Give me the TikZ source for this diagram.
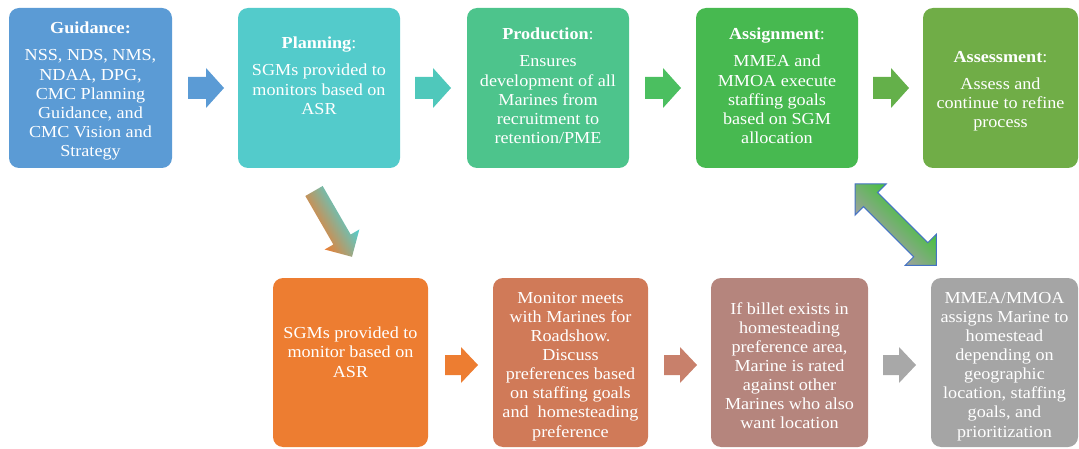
\documentclass[tikz,border=0pt]{standalone}
\usepackage{fontspec}
\setmainfont{Liberation Serif}[FakeStretch=1.08]
\usetikzlibrary{calc}
\definecolor{cGuid}{HTML}{5B9BD5}
\definecolor{cPlan}{HTML}{53CBCB}
\definecolor{cProd}{HTML}{4DC48C}
\definecolor{cAssg}{HTML}{47B950}
\definecolor{cAsse}{HTML}{70AD47}
\definecolor{cOrng}{HTML}{ED7D31}
\definecolor{cMoni}{HTML}{D07A58}
\definecolor{cBill}{HTML}{B5857D}
\definecolor{cMmea}{HTML}{A5A5A5}
\definecolor{aOne}{HTML}{5B9BD5}
\definecolor{aTwo}{HTML}{4FC8BB}
\definecolor{aThree}{HTML}{4BBF60}
\definecolor{aFour}{HTML}{64B04A}
\definecolor{aFive}{HTML}{ED7D31}
\definecolor{aSix}{HTML}{C8806B}
\definecolor{aSeven}{HTML}{A8A8A8}
\definecolor{dTeal}{HTML}{4FD0D2}
\definecolor{dGreen}{HTML}{45C23C}
\definecolor{dGrey}{HTML}{A0A0A0}
\definecolor{dBlue}{HTML}{4472C4}
\tikzset{
  box/.style={rectangle, rounded corners=10pt, draw=none, inner sep=0pt},
  txt/.style={anchor=north, align=center, inner sep=0pt, text=white,
    font=\fontsize{16.8}{19.1}\selectfont},
  pics/toparrow/.style={code={
    \path[pic actions] (0,-11) -- (18,-11) -- (18,-20) -- (36,0) -- (18,20) -- (18,11) -- (0,11) -- cycle;}},
  pics/botarrow/.style={code={
    \path[pic actions] (0,-10) -- (16,-10) -- (16,-18) -- (33,0) -- (16,18) -- (16,10) -- (0,10) -- cycle;}}
}
\begin{document}
\begin{tikzpicture}[x=1pt,y=-1pt]
\useasboundingbox (0,0) rectangle (1079,449);
% top row boxes
\node[box, fill=cGuid, minimum width=163pt, minimum height=160pt] (guid) at (90.5,88) {};
\node[box, fill=cPlan, minimum width=162pt, minimum height=160pt] (plan) at (319,88) {};
\node[box, fill=cProd, minimum width=162pt, minimum height=160pt] (prod) at (548,88) {};
\node[box, fill=cAssg, minimum width=162pt, minimum height=160pt] (assg) at (777,88) {};
\node[box, fill=cAsse, minimum width=155pt, minimum height=160pt] (asse) at (1000.5,88) {};
% bottom row boxes
\node[box, fill=cOrng, minimum width=155pt, minimum height=169pt] (orng) at (350.5,362.5) {};
\node[box, fill=cMoni, minimum width=155pt, minimum height=169pt] (moni) at (570.5,362.5) {};
\node[box, fill=cBill, minimum width=157pt, minimum height=169pt] (bill) at (789.5,362.5) {};
\node[box, fill=cMmea, minimum width=147pt, minimum height=169pt] (mmea) at (1004.5,362.5) {};
% texts
\node[txt] (guidT) at (90.5,22) {\textbf{Guidance:}\\[8pt]NSS, NDS, NMS,\\NDAA, DPG,\\CMC Planning\\Guidance, and\\CMC Vision and\\Strategy};
\node[txt] (planT) at (319,37) {\textbf{Planning}:\\[8pt]SGMs provided to\\monitors based on\\ASR};
\node[txt] (prodT) at (548,28) {\textbf{Production}:\\[8pt]Ensures\\development of all\\Marines from\\recruitment to\\retention/PME};
\node[txt] (assgT) at (777,28) {\textbf{Assignment}:\\[8pt]MMEA and\\MMOA execute\\staffing goals\\based on SGM\\allocation};
\node[txt] (asseT) at (1000.5,51) {\textbf{Assessment}:\\[8pt]Assess and\\continue to refine\\process};
\node[txt] (orngT) at (350.5,327) {SGMs provided to\\monitor based on\\ASR};
\node[txt] (moniT) at (570.5,292) {Monitor meets\\with Marines for\\Roadshow.\\Discuss\\preferences based\\on staffing goals\\and~ homesteading\\preference};
\node[txt] (billT) at (789.5,302) {If billet exists in\\homesteading\\preference area,\\Marine is rated\\against other\\Marines who also\\want location};
\node[txt] (mmeaT) at (1004.5,292) {MMEA/MMOA\\assigns Marine to\\homestead\\depending on\\geographic\\location, staffing\\goals, and\\prioritization};
% top block arrows
\pic[fill=aOne] at (188,88) {toparrow};
\pic[fill=aTwo] at (415,88) {toparrow};
\pic[fill=aThree] at (645,88) {toparrow};
\pic[fill=aFour] at (873,88) {toparrow};
% bottom block arrows
\pic[fill=aFive] at (445,365) {botarrow};
\pic[fill=aSix] at (664,365) {botarrow};
\pic[fill=aSeven] at (883,365) {botarrow};
% diagonal gradient arrow (planning -> orange)
\begin{scope}[transform canvas={shift={(314,191)}, rotate=-60}]
\shade[top color=dTeal, bottom color=cOrng]
  (0pt,-10pt) -- (56pt,-10pt) -- (56pt,-20pt) -- (76pt,0pt) -- (56pt,20pt) -- (56pt,10pt) -- (0pt,10pt) -- cycle;
\end{scope}
% double arrow (assignment <-> mmea)
\begin{scope}[transform canvas={shift={(855,184)}, rotate=-45}]
\shadedraw[draw=dBlue, line width=1pt, top color=dGreen, bottom color=dGrey]
  (0pt,0pt) -- (22pt,22pt) -- (22pt,10pt) -- (93pt,10pt) -- (93pt,22pt) -- (115pt,0pt) -- (93pt,-22pt) -- (93pt,-10pt) -- (22pt,-10pt) -- (22pt,-22pt) -- cycle;
\end{scope}
\end{tikzpicture}
\end{document}
